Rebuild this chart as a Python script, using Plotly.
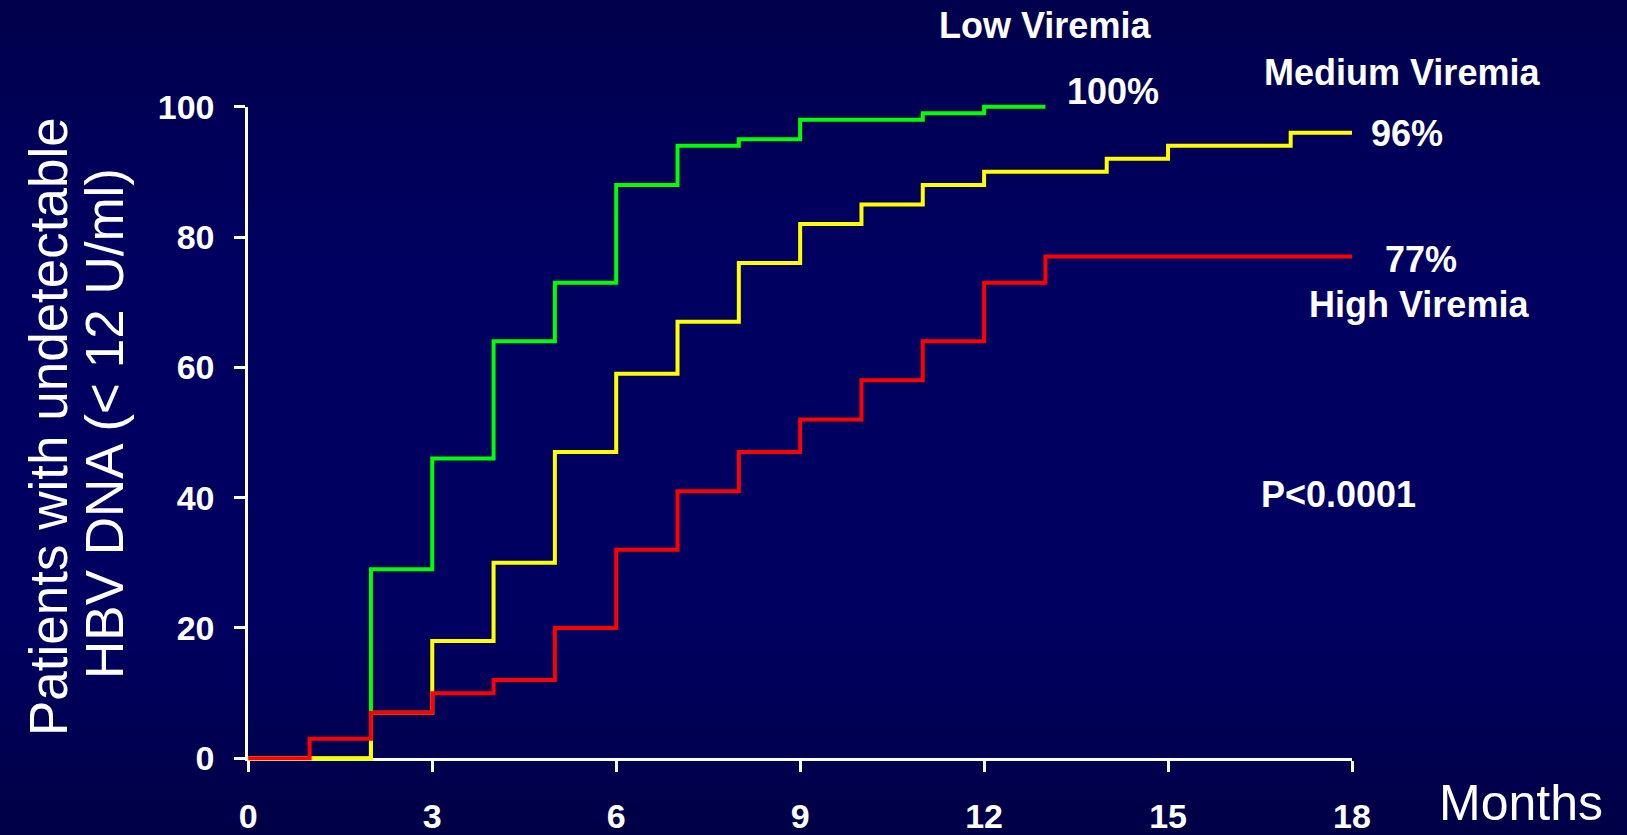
import base64
import plotly.graph_objects as go

# ---------------- data ----------------
months_low = [0, 2, 3, 4, 5, 6, 7, 8, 9, 11, 12, 13]
pct_low = [0, 29, 46, 64, 73, 88, 94, 95, 98, 99, 100, 100]

months_medium = [0, 2, 3, 4, 5, 6, 7, 8, 9, 10, 11, 12, 14, 15, 17, 18]
pct_medium = [0, 7, 18, 30, 47, 59, 67, 76, 82, 85, 88, 90, 92, 94, 96, 96]

months_high = [0, 1, 2, 3, 4, 5, 6, 7, 8, 9, 10, 11, 12, 13, 18]
pct_high = [0, 3, 7, 10, 12, 20, 32, 41, 47, 52, 58, 64, 73, 77, 77]

x_ticks = [0, 3, 6, 9, 12, 15, 18]
y_ticks = [0, 20, 40, 60, 80, 100]

# ---------------- layout geometry (pixels) ----------------
W, H = 1627, 835
X0, X18 = 248.3, 1352.0
Y0, Y100 = 758.3, 106.7
PAD = 6.0
pxm = (X18 - X0) / 18.0
pyu = (Y0 - Y100) / 100.0

FONT = "Liberation Sans, Arial, sans-serif"
WHITE = "#FFFFFF"


def px(x):
    return x / W


def py(y):
    return (H - y) / H


fig = go.Figure()

# invisible trace so the axis subplot (x, y) is drawn
fig.add_trace(go.Scatter(x=[], y=[], xaxis="x", yaxis="y", showlegend=False,
                         hoverinfo="skip"))

for xs, ys, col, name in [
    (months_low, pct_low, "#00FF00", "Low Viremia"),
    (months_medium, pct_medium, "#FFFF00", "Medium Viremia"),
    (months_high, pct_high, "#FF0000", "High Viremia"),
]:
    fig.add_trace(go.Scatter(
        x=xs, y=ys, mode="lines", name=name,
        line=dict(color=col, width=4, shape="hv"),
        xaxis="x2", yaxis="y2", showlegend=False, cliponaxis=False,
    ))

# gradient background
svg = (
    f'<svg xmlns="http://www.w3.org/2000/svg" width="{W}" height="{H}" '
    f'preserveAspectRatio="none"><defs><linearGradient id="g" x1="0" y1="0" x2="0" y2="1">'
    '<stop offset="0" stop-color="#00004C"/><stop offset="0.3" stop-color="#000060"/>'
    '<stop offset="0.75" stop-color="#000060"/><stop offset="1" stop-color="#000046"/>'
    f'</linearGradient></defs><rect width="{W}" height="{H}" fill="url(#g)"/></svg>'
)
bg_src = "data:image/svg+xml;base64," + base64.b64encode(svg.encode()).decode()

tickfont = dict(family=FONT, size=34, color=WHITE, weight="bold")

fig.update_layout(
    width=W, height=H,
    margin=dict(l=0, r=0, t=0, b=0),
    paper_bgcolor="#00005C",
    plot_bgcolor="rgba(0,0,0,0)",
    showlegend=False,
    images=[dict(source=bg_src, xref="paper", yref="paper", x=0, y=1,
                 sizex=1, sizey=1, sizing="stretch", layer="below",
                 xanchor="left", yanchor="top")],
    xaxis=dict(
        domain=[px(X0), px(X18)], range=[0, 18], anchor="y",
        tickvals=x_ticks, ticktext=[str(v) for v in x_ticks],
        showline=True, linecolor=WHITE, linewidth=3,
        ticks="outside", ticklen=11, tickwidth=3, tickcolor=WHITE,
        tickfont=tickfont, ticklabelstandoff=15,
        showgrid=False, zeroline=False, automargin=False, fixedrange=True,
    ),
    yaxis=dict(
        domain=[py(Y0), py(Y100)], range=[0, 100], anchor="x",
        tickvals=y_ticks, ticktext=[str(v) for v in y_ticks],
        showline=True, linecolor=WHITE, linewidth=3,
        ticks="outside", ticklen=11, tickwidth=3, tickcolor=WHITE,
        tickfont=tickfont, ticklabelstandoff=13,
        showgrid=False, zeroline=False, automargin=False, fixedrange=True,
    ),
    xaxis2=dict(
        domain=[px(X0 - PAD), px(X18 + PAD)],
        range=[-PAD / pxm, 18 + PAD / pxm], anchor="y2", visible=False,
        fixedrange=True,
    ),
    yaxis2=dict(
        domain=[py(Y0 + PAD), py(Y100 - PAD)],
        range=[-PAD / pyu, 100 + PAD / pyu], anchor="x2", visible=False,
        fixedrange=True,
    ),
)

bold = dict(family=FONT, size=36, color=WHITE, weight="bold")
labels = [
    ("Low Viremia", 1045, 25),
    ("100%", 1113, 91.5),
    ("Medium Viremia", 1402, 72.5),
    ("96%", 1407, 133.5),
    ("77%", 1421, 259.5),
    ("High Viremia", 1419, 304.5),
    ("P<0.0001", 1338, 494.5),
]
for text, x, y in labels:
    fig.add_annotation(text=text, xref="paper", yref="paper", x=px(x), y=py(y),
                       xanchor="center", yanchor="middle", showarrow=False,
                       font=bold)

normal = dict(family=FONT, size=53, color=WHITE)
fig.add_annotation(text="Patients with undetectable", xref="paper", yref="paper",
                   x=px(48), y=py(427), textangle=-90, xanchor="center",
                   yanchor="middle", showarrow=False, font=normal)
fig.add_annotation(text="HBV DNA (< 12 U/ml)", xref="paper", yref="paper",
                   x=px(104), y=py(424), textangle=-90, xanchor="center",
                   yanchor="middle", showarrow=False, font=normal)
fig.add_annotation(text="Months", xref="paper", yref="paper",
                   x=px(1521), y=py(803), xanchor="center", yanchor="middle",
                   showarrow=False, font=dict(family=FONT, size=50, color=WHITE))

fig.write_html(
    "out.html",
    config={"displayModeBar": False},
    post_script="document.body.style.margin='0';"
                "document.documentElement.style.overflow='hidden';",
)
